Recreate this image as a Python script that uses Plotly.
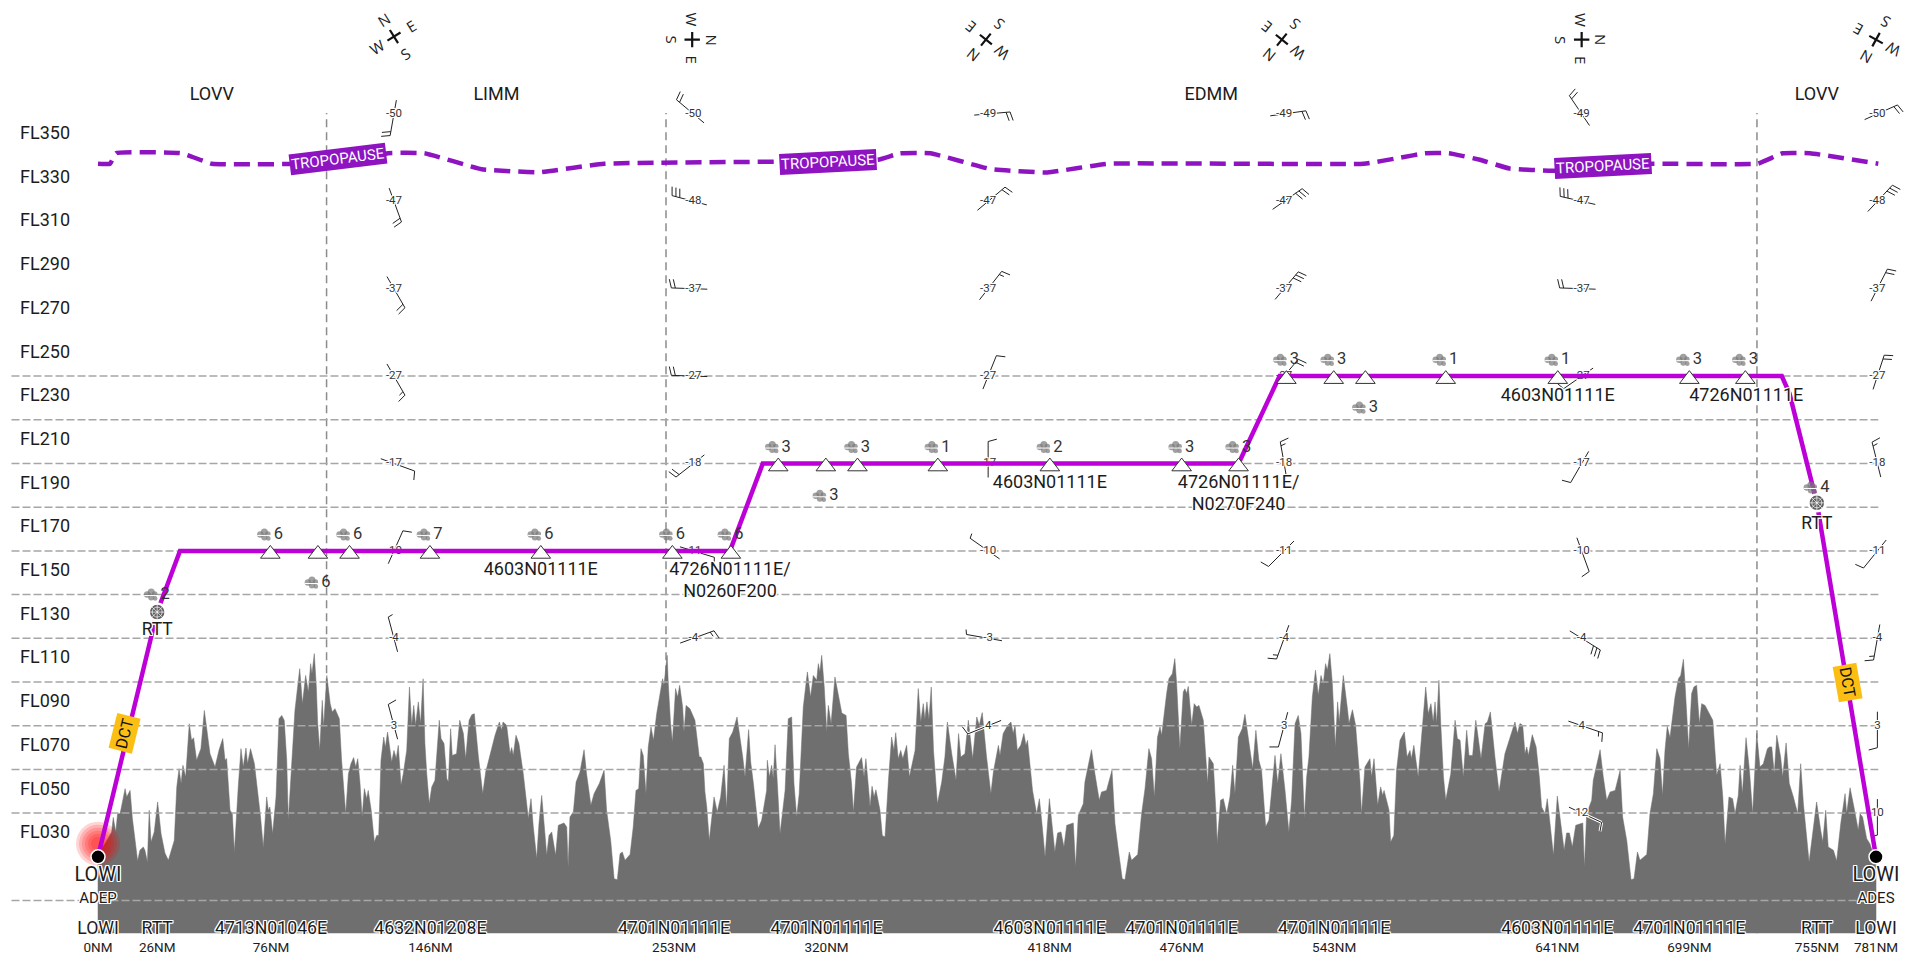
import math
import plotly.graph_objects as go

# ---------- scale of the chart (pixels per unit), used for small glyph offsets
PX_PER_NM = 2.2766
PX_PER_FL = 2.185

fl_tick_levels = [350, 330, 310, 290, 270, 250, 230, 210, 190, 170, 150, 130, 110, 90, 70, 50, 30]
fl_tick_labels = ["FL350", "FL330", "FL310", "FL290", "FL270", "FL250", "FL230", "FL210", "FL190",
                  "FL170", "FL150", "FL130", "FL110", "FL090", "FL070", "FL050", "FL030"]
grid_levels = [240, 220, 200, 180, 160, 140, 120, 100, 80, 60, 40, 0]
fir_boundary_nm = [100.4, 249.5, 728.7]
fir_names = ["LOVV", "LIMM", "EDMM", "LOVV"]
fir_name_nm = [50, 175, 489, 755]

terrain_profile = [
    (0, 21.4), (3.1, 26), (6, 31.4), (6.7, 38), (7.8, 31.4), (8.6, 39.7), (9.7, 39.7), (11.9, 51.2), (12.6, 47.4),
    (14.1, 50.4), (15.1, 37.5), (16.3, 27.5), (17.4, 18.1), (18.4, 23), (19.9, 24.5), (20.6, 23), (21.7, 17.6),
    (22.5, 41.3), (23.3, 26.8), (24.7, 31.4), (26.2, 45.1), (27.7, 30.6), (29.4, 21.7), (30.9, 18.4), (32.1, 23),
    (33.5, 27.5), (34.6, 52), (35.6, 60.3), (36.5, 53.5), (37.3, 61.9), (38.5, 56.5), (40.1, 80.9), (41.1, 73.3),
    (42, 74.5), (43.3, 64.2), (45.2, 69.5), (46.7, 87), (49.2, 67.2), (51.4, 61.1), (53.2, 69), (54.8, 74.1),
    (55.8, 64.2), (56.5, 65), (58, 41.3), (59, 39.7), (59.9, 22.2), (61.6, 52), (62.8, 69.5), (63.8, 61.1),
    (65, 69.8), (65.7, 62.6), (67, 69.5), (68.7, 62.6), (70.4, 48.9), (71.4, 38.2), (72.6, 24.5), (74.1, 47.4),
    (74.8, 41.3), (75.5, 42.8), (76.7, 30.6), (78.2, 47.4), (79.5, 83.2), (80.7, 84.7), (81.8, 82.5), (82.9, 64.2),
    (83.6, 36.7), (85.1, 61.1), (86.5, 87), (88.6, 106.1), (89.8, 90.1), (91.2, 103), (92.4, 95.4), (93.4, 108.4),
    (94, 103.8), (95, 113), (95.9, 97.7), (96.5, 81), (97.4, 68.7), (98.5, 91.6), (99.1, 79.4), (100.5, 103),
    (102, 90.1), (102.9, 86.3), (104.1, 87.8), (106, 83.2), (107, 64.2), (108.8, 39.7), (110, 58), (111.1, 62.6),
    (112.3, 65.4), (113.2, 61.1), (114.1, 64.9), (115.1, 53.5), (116, 38.2), (117, 51.2), (118, 46.6), (118.7, 50.4),
    (120, 41.3), (121.4, 26.8), (122.4, 29.8), (123.3, 29.8), (124.3, 64.2), (125.5, 74.8), (126.2, 70), (127.2, 77.1),
    (128.3, 68.7), (129, 63.4), (130, 68.7), (131, 65), (131.9, 71), (132.7, 61), (133.1, 52.7), (134.1, 58),
    (135.6, 68.7), (136.8, 97.7), (137.8, 80.2), (138.7, 89.3), (139.5, 80.2), (140.7, 90.9), (141.7, 81), (142.8, 101.5),
    (143.6, 71.8), (144.4, 58), (145.5, 44.3), (146.6, 52), (148, 55), (149.9, 82.5), (150.7, 74.1), (152, 71.8),
    (153.2, 55.8), (153.9, 54.2), (154.9, 78.6), (155.6, 66.4), (157.5, 67.2), (158.9, 82.5), (160.5, 76.4), (161.5, 64.9),
    (163, 82.5), (164.2, 85), (165.3, 85.5), (167.1, 65.7), (169, 48.9), (170.3, 58.8), (172.2, 67.2), (174.4, 75.6),
    (176.3, 81.7), (177.3, 78), (177.9, 81.7), (179.5, 80.2), (181, 67.2), (181.7, 70), (182.4, 66.4), (183.6, 75.6),
    (184.9, 71.8), (186.8, 58), (188.3, 44.3), (189, 37.5), (190.2, 46.6), (191.2, 33.7), (192.7, 19.2), (193.7, 35.2),
    (194.9, 48.1), (196.4, 31.4), (197.1, 20.7), (198.1, 29.8), (199.3, 31.4), (201, 20.7), (202.2, 34.4), (204.7, 35.5),
    (205.9, 33.6), (206.5, 15.3), (207.3, 38.2), (208.8, 40.5), (210, 54.2), (211.7, 58.8), (213.5, 69), (214.6, 58),
    (216.5, 43.6), (217.9, 48.9), (220.2, 53.5), (222.3, 59.6), (223.4, 41.3), (225.2, 27.5), (226.7, 10), (228.1, 9.5),
    (229.3, 21.4), (230.3, 22.2), (231.5, 18.4), (233.7, 21.1), (235.1, 33.6), (236.3, 50.4), (237.5, 51.2), (238.5, 69.5),
    (239.5, 66.4), (240.7, 48.9), (241.7, 70.3), (242.9, 79.4), (244, 73.3), (245.4, 85.5), (246.9, 94.7), (248, 101.5),
    (248.6, 98.5), (250, 112.2), (250.5, 99.2), (251.5, 81), (252.3, 72.5), (253.7, 97), (254.6, 93), (255.5, 98.5),
    (256.8, 88.6), (257.4, 77.1), (258.3, 89.3), (260, 87.8), (262.2, 82.5), (264.1, 65.7), (264.8, 65.7), (265.9, 62.6),
    (266.6, 49.7), (267.4, 42.8), (268.5, 27.5), (269.6, 39.7), (270.6, 47.4), (272, 40.5), (273.5, 47.4), (275, 61.9),
    (276.1, 42), (277.3, 74.1), (278.8, 77.1), (280.7, 84), (282, 74.8), (283.2, 65.7), (284.2, 56.5), (285.8, 78.2),
    (286.7, 63.4), (287.9, 53.5), (290, 32.9), (291.5, 36.7), (293.7, 50.4), (294, 64.2), (294.9, 56.5), (295.9, 61.9),
    (296.6, 55.8), (297.4, 71.3), (298.4, 53.5), (299.6, 30.6), (301.8, 50.4), (303.2, 83.2), (304.7, 84), (305.7, 53.5),
    (306.9, 38.2), (308, 48.9), (309.8, 88.6), (311.6, 104.6), (313, 93.1), (314.2, 103), (315.7, 100.8), (316.4, 108.4),
    (317.1, 104.6), (317.9, 112.2), (319, 97.7), (320.1, 77.1), (320.8, 89.3), (322, 80.9), (323.7, 102.3), (325.2, 93.1),
    (326.7, 85.8), (328.6, 84.7), (329.6, 67.2), (331, 53.5), (331.8, 40.5), (333.2, 61.1), (335.4, 65.4), (336.5, 56.5),
    (337.3, 64.9), (338.8, 47.4), (339.1, 42.8), (340, 52.3), (340.9, 47.4), (341.7, 50.7), (343.5, 41.3), (344.5, 29.8),
    (345.7, 29.1), (347.2, 55), (348.6, 74.8), (349.6, 68.7), (350.4, 76.8), (351.5, 64.9), (352.6, 68.7), (353.5, 64.9),
    (355.2, 71), (356.4, 56.5), (358.9, 68.7), (360.3, 97), (361.4, 81.7), (362.5, 90.1), (363.2, 83), (364.1, 90.9),
    (365, 83), (366, 97.7), (367, 68.7), (368.7, 44.3), (370.6, 54.2), (372, 65.7), (373.1, 81.7), (375, 67.2),
    (376.9, 55), (378, 76.4), (379, 65.7), (380.8, 67.2), (382.3, 82.5), (384.2, 64.9), (386, 84), (387.1, 80.2),
    (388.4, 86), (390.3, 65.7), (391, 59.6), (392.2, 48.9), (393.3, 58.8), (395.5, 71), (396.2, 66.4), (397.6, 76.4),
    (399.6, 80.2), (401, 81.7), (402, 76.4), (402.8, 80.2), (403.8, 68.7), (405.3, 71), (406.7, 76.4), (407.6, 71),
    (408.3, 73.3), (409.4, 61.1), (410.5, 50.4), (412.3, 39.7), (413.5, 46.6), (414.5, 36.7), (416, 19.9), (417.9, 46.6),
    (418.9, 35.2), (420.3, 22.2), (421.5, 30.9), (423, 31.4), (424.3, 24.5), (425.5, 34.4), (428.4, 35.5), (429.4, 15.3),
    (430.6, 39), (432.8, 44.3), (433.5, 54.2), (436.4, 69), (437.9, 58), (439.8, 45.9), (440.8, 49.7), (443, 50.4),
    (445.4, 59.6), (446.7, 35.2), (448.2, 23), (449.9, 10), (451.1, 9.5), (453, 22.2), (454, 18.4), (456.7, 21.1),
    (458.4, 39.7), (459.9, 51.2), (461.6, 69.5), (462.8, 64.9), (464, 47.4), (465.4, 74.8), (466.5, 79.4), (467.2, 75.6),
    (469.4, 94.7), (470.4, 101.5), (471.9, 103.8), (473, 110.7), (473.8, 99.2), (475.2, 69.5), (476.7, 95.4), (477.4, 96.9),
    (478.2, 94.7), (478.9, 98), (480.4, 80.2), (481.5, 90.1), (482.6, 88.6), (483.6, 89.3), (485.5, 82.5), (486.5, 68.7),
    (487.4, 53.5), (488, 65.7), (489.9, 62.6), (491.1, 39.7), (491.6, 26.3), (493.1, 45.9), (494.3, 46.6), (495.8, 39.7),
    (497.2, 47.4), (498.4, 61.9), (499.4, 48.9), (500.9, 74.8), (502.6, 78.6), (503.8, 85.2), (505.3, 73.3), (507.2, 60.3),
    (508.6, 77.9), (509.9, 64.2), (511.1, 59.6), (512.9, 33.7), (514.3, 36.7), (515.2, 47.4), (517, 66.4), (518.2, 53.5),
    (519.6, 67.2), (521.4, 50.4), (523.1, 31.4), (524.3, 45.9), (525.8, 80.9), (527.2, 84.7), (528.4, 76.4), (529.9, 37.5),
    (530.9, 56.5), (531.9, 65.7), (533.4, 93.1), (534.8, 105.4), (536, 93.9), (537.2, 103), (538.2, 99.2), (539.2, 108.4),
    (540, 105.4), (541.1, 113), (542.2, 99.2), (543.5, 70.3), (544.5, 90.9), (545.2, 81.7), (547, 103), (548.9, 87),
    (549.5, 81), (551, 87.3), (552.4, 80.2), (554.3, 55), (555, 39.7), (556.5, 61.1), (558.7, 64.9), (559.4, 56.5),
    (560.5, 64.9), (562.1, 43.6), (563.4, 52), (564.3, 48), (564.9, 50.4), (567.1, 41.3), (567.8, 26.8), (569.2, 29.8),
    (570.4, 59.6), (571.9, 73.3), (573.8, 77.1), (575, 65.7), (576.3, 68.7), (576.9, 64.9), (578, 71), (579.9, 56.5),
    (583.2, 97.7), (584.3, 85.5), (585.5, 90.1), (586.5, 81.7), (587.3, 90.9), (588, 81), (589, 100.8), (589.8, 81),
    (591, 56.5), (592, 45.9), (594.2, 58), (596.1, 82.5), (597.1, 74.1), (598.3, 73.3), (599.7, 56.5), (601.2, 77.9),
    (602.2, 66.4), (603.8, 66.4), (605.2, 82.5), (607.5, 64.9), (609.3, 80.9), (610.3, 81.7), (611.6, 86.3), (613.6, 65.7),
    (615.4, 49.7), (618, 67.2), (620.2, 74.1), (622.4, 81.7), (623.5, 76.4), (624.6, 81), (625.8, 80.2), (626.8, 67.2),
    (627.6, 70.3), (628.3, 66.4), (630, 75.9), (631.7, 70.3), (633.1, 56.5), (634.1, 42.8), (635.6, 39.7), (636.6, 46.6),
    (637.8, 35.2), (639.3, 20.7), (641, 47.8), (642.5, 35.2), (644, 23), (645.1, 30.9), (646.3, 30.9), (647.6, 24.5),
    (649.1, 34.4), (652.2, 35.5), (652.9, 15.3), (653.9, 39.7), (656.1, 45.9), (656.8, 55), (659.8, 69), (661.2, 56.5),
    (662.7, 45.9), (664.2, 49.7), (666.4, 50.4), (668.6, 59.6), (669.7, 38.2), (671.5, 27.5), (673.4, 9.5), (674.7, 10),
    (676.2, 22.2), (677.3, 18.4), (680.3, 21.1), (681.7, 39.7), (683.2, 48.9), (684.7, 69.5), (686.1, 64.9), (687.2, 48.1),
    (688.3, 68.7), (689.3, 79.7), (690.5, 74.5), (692.7, 93.1), (694.2, 101.5), (695.2, 103), (696.4, 110.4), (697.1, 99.2),
    (698.7, 69.5), (700, 94.7), (701, 97.7), (702.2, 98.5), (703.4, 80.9), (704.4, 90.1), (705.9, 89.3), (709.3, 82.5),
    (710.6, 65.7), (711, 57.3), (712.5, 62.6), (713.7, 47.4), (714.7, 25.7), (716.4, 47.4), (718, 46.6), (719.1, 39.7),
    (720.5, 48.1), (721.3, 61.9), (722.3, 48.9), (723.9, 74.5), (725.4, 59.6), (726.8, 39.7), (728.6, 76.4), (730, 61.1),
    (731.5, 62.6), (733.3, 69.5), (734.2, 70.3), (735.2, 70.3), (736.3, 58), (737.4, 75.6), (739.1, 65.7), (740, 56.5),
    (741.5, 72.1), (742.9, 53.5), (744.7, 47.4), (746.6, 39.7), (747.9, 62.6), (749.1, 44.3), (751.6, 17.6), (753.5, 33.7),
    (754.9, 45.1), (756.7, 32.1), (757.6, 26.8), (758.9, 41.3), (760, 24.5), (762.3, 23), (763.7, 18.1), (765.5, 35.2),
    (767.4, 48.9), (768.1, 39.7), (769.6, 51.6), (771.3, 42.8), (773.2, 32.1), (774, 39.7), (775.1, 38.2), (776.9, 28.3),
    (778.3, 26), (779.8, 21.4), (781, 21.4),
]
terrain_floor_fl = -15

route_nm = [0, 26, 36, 277.6, 292, 501, 519, 739.6, 743, 755, 781]
route_fl = [20, 132, 160, 160, 200, 200, 240, 240, 232, 182, 20]

tropo_nm = [0, 5.3, 7.9, 36.7, 50, 100, 110.7, 127.4, 143.4, 168.5, 193.7, 222.3, 342.6, 352.3, 365.7, 392.3, 417.1,
            443.6, 556, 572.3, 582.9, 593.4, 607, 620, 639, 683, 729, 740, 752, 782]
tropo_fl = [337.2, 337.2, 342, 342, 337.2, 337.2, 337.2, 342, 342, 334.7, 333.3, 337.2, 339, 342, 342, 334.7, 333.2,
            337.2, 337.2, 340, 342, 342, 339, 335, 334, 337.2, 337.2, 342, 342, 337.2]
tropo_label_nm = [105.4, 320.6, 661]
tropo_label_fl = [339.3, 338.2, 336.3]
tropo_label_angle = [-7, -3, -3]

waypoint_nm = [75.7, 96.6, 110.5, 145.8, 194.5, 252.3, 278, 298.8, 319.7, 333.6, 368.9, 418.1, 476, 501,
               522, 542.8, 556.7, 592, 641.2, 699, 723.6]
waypoint_fl = [158.6, 158.6, 158.6, 158.6, 158.6, 158.6, 158.6, 198.6, 198.6, 198.6, 198.6, 198.6, 198.6, 198.6,
               238.6, 238.6, 238.6, 238.6, 238.6, 238.6, 238.6]

turb_nm = [26, 75.7, 96.6, 110.5, 145.8, 194.5, 252.3, 278, 298.8, 319.7, 333.6, 368.9, 418.1, 476, 501,
           522, 542.8, 556.7, 592, 641.2, 699, 723.6, 755]
turb_fl = [139.8, 167.3, 145.3, 167.3, 167.3, 167.3, 167.3, 167.3, 207.3, 185, 207.3, 207.3, 207.3, 207.3, 207.3,
           247.3, 247.3, 225.4, 247.3, 247.3, 247.3, 247.3, 188.8]
turb_value = ["2", "6", "6", "6", "7", "6", "6", "6", "3", "3", "3", "1", "2", "3", "3",
              "3", "3", "3", "1", "1", "3", "3", "4"]

coord_label_nm = [194.5, 277.6, 277.6, 418.1, 501, 501, 641.2, 724]
coord_label_fl = [151, 151, 141, 190.8, 190.8, 180.9, 230.7, 230.7]
coord_label_text = ["4603N01111E", "4726N01111E/", "N0260F200", "4603N01111E", "4726N01111E/", "N0270F240",
                    "4603N01111E", "4726N01111E"]

bottom_nm = [0, 26, 76, 146, 253, 320, 418, 476, 543, 641, 699, 755, 781]
bottom_names = ["LOWI", "RTT", "4713N01046E", "4632N01208E", "4701N01111E", "4701N01111E", "4603N01111E",
                "4701N01111E", "4701N01111E", "4603N01111E", "4701N01111E", "RTT", "LOWI"]
bottom_dist = ["0NM", "26NM", "76NM", "146NM", "253NM", "320NM", "418NM", "476NM", "543NM", "641NM", "699NM",
               "755NM", "781NM"]

rtt_nm = [26, 755]
rtt_fl = [132, 182]
rtt_label_fl = [123.5, 172]

airport_nm = [0, 781]
airport_fl = [20, 20]
airport_role = ["ADEP", "ADES"]
dct_nm = [11.6, 768.7]
dct_fl = [76.5, 100]
dct_angle = [-76, 80]

wind_col_nm = [130, 261.5, 391, 521, 651.7, 781.6]
wind_levels = [360, 320, 280, 240, 200, 160, 120, 80, 40]
compass_north = [-32, 90, -141, -141, 90, -151]
compass_nm = [130, 261, 390, 520, 651.7, 781]
compass_fl = [395.4, 394, 394, 394, 394, 394]
wind_temp = [
    [-50, -47, -37, -27, -17, -10, -4, 3],
    [-50, -48, -37, -27, -18, -11, -4],
    [-49, -47, -37, -27, -17, -10, -3, 4],
    [-49, -47, -37, -27, -18, -11, -4, 3],
    [-49, -47, -37, -27, -17, -10, -4, 4, 12],
    [-50, -48, -37, -27, -18, -11, -4, 3, 10],
]
wind_dir = [
    [190, 160, 150, 150, 110, 24, 345, 345],
    [310, 285, 272, 272, 232, 107, 70],
    [85, 50, 38, 22, 0, 305, 280, 248],
    [82, 55, 40, 40, 350, 225, 200, 195],
    [326, 283, 272, 235, 210, 160, 122, 109, 115],
    [66, 43, 27, 18, 346, 219, 190, 180, 180],
]
wind_kt = [
    [20, 20, 20, 15, 10, 10, 5, 10],
    [20, 30, 20, 20, 20, 10, 15],
    [20, 20, 15, 10, 10, 5, 5, 10],
    [20, 30, 30, 20, 15, 10, 15, 10],
    [20, 30, 20, 10, 10, 10, 30, 15, 10],
    [20, 30, 20, 20, 15, 10, 15, 10, 5],
]

# ---------- styles
ROBOTO = "Roboto, Arial, sans-serif"
INK = "#1c1c1c"
HALO = "1px 0 0 #fff,-1px 0 0 #fff,0 1px 0 #fff,0 -1px 0 #fff,1px 1px 0 #fff,-1px -1px 0 #fff,1px -1px 0 #fff,-1px 1px 0 #fff"
ROUTE = "#bd00d8"
TROPO = "#8d14c0"
TERRAIN = "#6f6f6f"


def shifted(nm, fl, dx, dy):
    return nm + dx / PX_PER_NM, fl - dy / PX_PER_FL


def barb_paths(nm, fl, bearing, speed):
    xs, ys = [], []
    a = math.radians(bearing)
    ux, uy = math.sin(a), -math.cos(a)
    b = math.radians(bearing + 75)
    vx, vy = math.sin(b), -math.cos(b)
    for x, y in (shifted(nm, fl, -14 * ux, -14 * uy), shifted(nm, fl, 22 * ux, 22 * uy)):
        xs.append(x)
        ys.append(y)
    xs.append(None)
    ys.append(None)
    full, half = speed // 10, speed % 10 > 0
    along = 22
    for k in range(full + (1 if half else 0)):
        size = 9 if k < full else 5
        px, py = along * ux, along * uy
        for x, y in (shifted(nm, fl, px, py), shifted(nm, fl, px + size * vx, py + size * vy)):
            xs.append(x)
            ys.append(y)
        xs.append(None)
        ys.append(None)
        along -= 4
    return xs, ys


fig = go.Figure()

# terrain
terrain_nm = [p[0] for p in terrain_profile]
terrain_fl = [p[1] for p in terrain_profile]
fig.add_trace(go.Scatter(
    x=[terrain_nm[0]] + terrain_nm + [terrain_nm[-1]],
    y=[terrain_floor_fl] + terrain_fl + [terrain_floor_fl],
    mode="lines", fill="toself", fillcolor=TERRAIN, line=dict(color=TERRAIN, width=0.5), hoverinfo="skip"))

# horizontal grid, above the terrain
grid_x, grid_y = [], []
for level in grid_levels:
    grid_x += [-38, 782, None]
    grid_y += [level, level, None]
fig.add_trace(go.Scatter(x=grid_x, y=grid_y, mode="lines", hoverinfo="skip",
                         line=dict(color="#a6a6a6", width=1.5, dash="8px,3px")))

# wind barbs
barb_x, barb_y, halo_x, halo_y = [], [], [], []
temp_x, temp_y, temp_t = [], [], []
for c, col_nm in enumerate(wind_col_nm):
    for i, t in enumerate(wind_temp[c]):
        xs, ys = barb_paths(col_nm, wind_levels[i], wind_dir[c][i], wind_kt[c][i])
        barb_x += xs
        barb_y += ys
        if wind_levels[i] < 100:
            halo_x += xs
            halo_y += ys
        temp_x.append(col_nm)
        temp_y.append(wind_levels[i])
        temp_t.append(str(t))
fig.add_trace(go.Scatter(x=halo_x, y=halo_y, mode="lines", line=dict(color="#ffffff", width=3), hoverinfo="skip"))
fig.add_trace(go.Scatter(x=barb_x, y=barb_y, mode="lines", line=dict(color="#222222", width=1), hoverinfo="skip"))
fig.add_trace(go.Scatter(x=temp_x, y=temp_y, mode="text", text=temp_t, hoverinfo="skip",
                         textfont=dict(family=ROBOTO, size=11.5, color="#333333", shadow=HALO)))

# tropopause
fig.add_trace(go.Scatter(x=tropo_nm, y=tropo_fl, mode="lines", hoverinfo="skip",
                         line=dict(color=TROPO, width=4.5, dash="16px,8px", shape="spline", smoothing=0.3)))

# glow at departure: stacked translucent discs
for glow_size in [44, 38, 32, 26, 20, 14]:
    fig.add_trace(go.Scatter(x=[airport_nm[0]], y=[26], mode="markers", hoverinfo="skip",
                             marker=dict(size=glow_size, color="rgba(255,0,0,0.17)",
                                         line=dict(width=0, color="rgba(0,0,0,0)"))))

# route
fig.add_trace(go.Scatter(x=route_nm, y=route_fl, mode="lines", hoverinfo="skip",
                         line=dict(color=ROUTE, width=4.5)))
fig.add_trace(go.Scatter(x=waypoint_nm, y=waypoint_fl, mode="markers", hoverinfo="skip",
                         marker=dict(symbol="triangle-up", size=17, color="#ffffff",
                                     line=dict(color="#333333", width=1))))
fig.add_trace(go.Scatter(x=airport_nm, y=airport_fl, mode="markers", hoverinfo="skip",
                         marker=dict(size=14, color="#000000", line=dict(color="#ffffff", width=1.5))))

# RTT beacon
fig.add_trace(go.Scatter(x=rtt_nm, y=rtt_fl, mode="markers", hoverinfo="skip",
                         marker=dict(size=17, color="#5f5f5f", line=dict(color="#ffffff", width=2.5))))
fig.add_trace(go.Scatter(x=rtt_nm, y=rtt_fl, mode="markers", hoverinfo="skip",
                         marker=dict(size=15, symbol="asterisk-open", color="#ffffff",
                                     line=dict(color="#ffffff", width=0.7))))
fig.add_trace(go.Scatter(x=rtt_nm, y=rtt_fl, mode="markers", hoverinfo="skip",
                         marker=dict(size=10, symbol="circle-open", color="#ffffff",
                                     line=dict(color="#d0d0d0", width=0.7))))

# turbulence icon built from small blobs, then the figure
icon_parts = [(-10, -0.5, 6.5), (-6, -3, 7), (-2.5, -1, 5.5), (-6, 2.5, 6), (-2, 3.5, 4.5)]
icon_x, icon_y, icon_s = [], [], []
for nm, fl in zip(turb_nm, turb_fl):
    for dx, dy, s in icon_parts:
        x, y = shifted(nm, fl, dx, dy)
        icon_x.append(x)
        icon_y.append(y)
        icon_s.append(s)
fig.add_trace(go.Scatter(x=icon_x, y=icon_y, mode="markers", hoverinfo="skip",
                         marker=dict(size=icon_s, color="#777777", line=dict(width=0, color="#777777"))))
fig.add_trace(go.Scatter(x=[n - 6 / PX_PER_NM for n in turb_nm], y=[f - 0.5 / PX_PER_FL for f in turb_fl],
                         mode="markers", hoverinfo="skip",
                         marker=dict(size=10, symbol="line-ew", color="#ffffff",
                                     line=dict(color="#ffffff", width=1))))
fig.add_trace(go.Scatter(x=[n + 8 / PX_PER_NM for n in turb_nm], y=turb_fl, mode="text", hoverinfo="skip",
                         text=turb_value, textfont=dict(family=ROBOTO, size=16.5, color="#333333")))

# text over the route
fig.add_trace(go.Scatter(x=coord_label_nm, y=coord_label_fl, mode="text", text=coord_label_text, hoverinfo="skip",
                         textfont=dict(family=ROBOTO, size=18, color=INK, shadow=HALO)))
fig.add_trace(go.Scatter(x=rtt_nm, y=rtt_label_fl, mode="text", text=["RTT", "RTT"], hoverinfo="skip",
                         textfont=dict(family=ROBOTO, size=17.5, color=INK, shadow=HALO)))
fig.add_trace(go.Scatter(x=bottom_nm, y=[-13.5] * len(bottom_nm), mode="text", text=bottom_names, hoverinfo="skip",
                         textfont=dict(family=ROBOTO, size=17.7, color=INK, shadow=HALO)))
fig.add_trace(go.Scatter(x=bottom_nm, y=[-22.2] * len(bottom_nm), mode="text", text=bottom_dist, hoverinfo="skip",
                         textfont=dict(family=ROBOTO, size=13.5, color=INK)))
fig.add_trace(go.Scatter(x=airport_nm, y=[11, 11], mode="text", text=["LOWI", "LOWI"], hoverinfo="skip",
                         textfont=dict(family=ROBOTO, size=20, color=INK, shadow=HALO)))
fig.add_trace(go.Scatter(x=airport_nm, y=[0.8, 0.8], mode="text", text=airport_role, hoverinfo="skip",
                         textfont=dict(family=ROBOTO, size=15, color=INK, shadow=HALO)))
fig.add_trace(go.Scatter(x=fir_name_nm, y=[368.5] * len(fir_names), mode="text", text=fir_names, hoverinfo="skip",
                         textfont=dict(family=ROBOTO, size=18, color=INK)))

# compass roses
fig.add_trace(go.Scatter(x=compass_nm, y=compass_fl, mode="markers", hoverinfo="skip",
                         marker=dict(symbol="cross-thin", size=11, angle=compass_north,
                                     line=dict(color="#111111", width=2.2))))
annotations = []
for c, north in enumerate(compass_north):
    for k, letter in enumerate(["N", "E", "S", "W"]):
        a = math.radians(north + 90 * k)
        annotations.append(dict(x=compass_nm[c], y=compass_fl[c], xref="x", yref="y", text=letter, showarrow=False,
                                xshift=20 * math.sin(a), yshift=20 * math.cos(a), textangle=north,
                                font=dict(family="Open Sans, Arial, sans-serif", size=15, color="#222222")))
for nm, fl, angle in zip(tropo_label_nm, tropo_label_fl, tropo_label_angle):
    annotations.append(dict(x=nm, y=fl, xref="x", yref="y", text="TROPOPAUSE", showarrow=False, textangle=angle,
                            bgcolor=TROPO, borderpad=1,
                            font=dict(family=ROBOTO, size=15, color="#ffffff")))
for nm, fl, angle in zip(dct_nm, dct_fl, dct_angle):
    annotations.append(dict(x=nm, y=fl, xref="x", yref="y", text="DCT", showarrow=False, textangle=angle,
                            bgcolor="#fbbf14", borderpad=2,
                            font=dict(family=ROBOTO, size=16, color="#111111")))

shapes = [dict(type="line", layer="below", xref="x", yref="y", x0=nm, x1=nm, y0=terrain_floor_fl, y1=360.4,
               line=dict(color="#8c8c8c", width=1.5, dash="8px,5px")) for nm in fir_boundary_nm]

fig.update_layout(
    width=1910, height=963, margin=dict(l=0, r=0, t=0, b=0, pad=0),
    paper_bgcolor="#ffffff", plot_bgcolor="#ffffff", showlegend=False,
    shapes=shapes, annotations=annotations,
    xaxis=dict(range=[-98 / PX_PER_NM, (1910 - 98) / PX_PER_NM], visible=False, fixedrange=True),
    yaxis=dict(range=[100 - (963 - 682) / PX_PER_FL, 100 + 682 / PX_PER_FL], fixedrange=True,
               showgrid=False, zeroline=False, showline=False, ticks="",
               tickmode="array", tickvals=fl_tick_levels, ticktext=fl_tick_labels,
               ticklabelposition="inside", ticklabelstandoff=17, ticklabelshift=-3,
               tickfont=dict(family=ROBOTO, size=18, color=INK)),
)

fig.write_html("out.html", config={"displayModeBar": False},
               post_script="document.body.style.margin='0';document.body.style.overflow='hidden';")
